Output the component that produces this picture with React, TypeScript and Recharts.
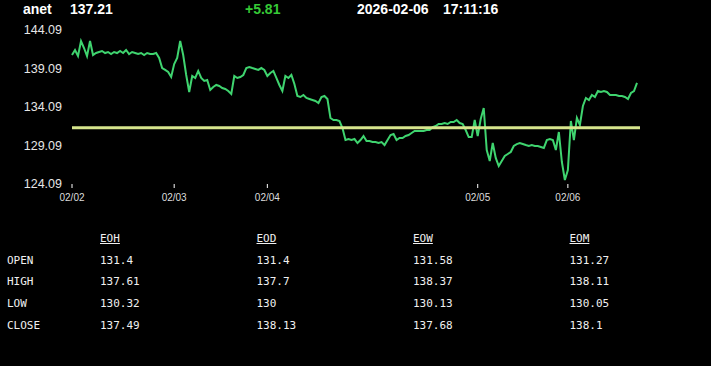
import React from 'react';
import { LineChart, Line, XAxis, YAxis, ReferenceLine } from 'recharts';

// ticker header
const symbol = 'anet';
const lastPrice = '137.21';
const change = '+5.81';
const quoteDate = '2026-02-06';
const quoteTime = '17:11:16';

// intraday closes, one point per sample (5 trading days)
const prices = [
  140.84, 141.49, 140.71, 142.66, 141.75, 140.71, 142.66, 140.84, 141.1, 141.23,
  141.36, 141.1, 141.23, 140.97, 141.23, 141.1, 141.36, 141.1, 141.49, 140.97,
  141.23, 141.1, 140.97, 141.1, 140.84, 141.1, 140.97, 140.97, 141.1, 140.45,
  139.15, 138.9, 138.64, 137.99, 139.67, 140.45, 142.66, 140.84, 138.25, 136.04,
  138.12, 137.86, 138.77, 137.86, 137.47, 137.6, 136.3, 136.69, 136.95, 136.82,
  136.56, 136.43, 136.17, 135.78, 138.12, 137.86, 137.99, 138.25, 139.15, 139.28,
  139.15, 139.03, 138.9, 139.15, 138.9, 138.12, 138.51, 138.77, 137.86, 136.95,
  136.17, 138.12, 137.86, 138.25, 137.08, 135.52, 135.39, 135.65, 135.26, 135.13,
  135.0, 134.87, 134.61, 135.39, 135.52, 135.13, 132.66, 132.4, 132.4, 132.27,
  131.36, 129.8, 129.93, 129.8, 129.93, 129.41, 129.8, 130.32, 129.67, 129.67,
  129.54, 129.54, 129.41, 129.54, 129.15, 129.8, 130.45, 130.58, 129.8, 130.06,
  130.06, 130.32, 130.45, 130.71, 130.97, 130.97, 130.97, 130.97, 131.1, 131.1,
  131.49, 131.62, 131.88, 131.88, 132.01, 131.88, 132.14, 132.14, 132.4, 132.01,
  131.88, 131.1, 130.19, 130.19, 132.4, 130.32, 132.53, 133.96, 128.51, 127.08,
  129.41, 127.47, 126.43, 127.08, 127.73, 127.99, 128.25, 129.03, 129.28, 129.41,
  129.28, 129.15, 129.03, 129.15, 129.03, 129.03, 128.9, 128.77, 129.8, 129.93,
  129.8, 128.51, 130.84, 126.95, 124.61, 125.91, 132.27, 129.8, 132.66, 131.75,
  134.22, 135.26, 135.0, 135.65, 135.39, 136.17, 136.04, 136.17, 136.04, 135.65,
  135.65, 135.65, 135.52, 135.52, 135.39, 135.13, 135.91, 136.17, 137.21,
];

// index where each day starts
const dayStarts = [0, 34, 65, 135, 165];
const dayLabels = ['02/02', '02/03', '02/04', '02/05', '02/06'];

const priceTicks = [124.09, 129.09, 134.09, 139.09, 144.09];
const prevClose = 131.4;

// OHLC summary table
const periods = ['EOH', 'EOD', 'EOW', 'EOM'];
const rowNames = ['OPEN', 'HIGH', 'LOW', 'CLOSE'];
const opens = ['131.4', '131.4', '131.58', '131.27'];
const highs = ['137.61', '137.7', '138.37', '138.11'];
const lows = ['130.32', '130', '130.13', '130.05'];
const closes = ['137.49', '138.13', '137.68', '138.1'];

const chartData = prices.map((p, i) => ({ i, price: p }));

const headStyle: React.CSSProperties = {
  position: 'absolute',
  top: 2,
  fontFamily: '"Liberation Sans", Arial, sans-serif',
  fontWeight: 'bold',
  fontSize: 14,
  lineHeight: '14px',
  color: '#ffffff',
  whiteSpace: 'nowrap',
};

const cellStyle: React.CSSProperties = {
  position: 'absolute',
  fontFamily: '"DejaVu Sans Mono", monospace',
  fontSize: 11,
  lineHeight: '11px',
  color: '#f0f0f0',
  whiteSpace: 'nowrap',
};

const colX = (c: number) => 100 + c * 156.5;
const rowTop = [233, 254.5, 276, 297.5, 319.5];

export default function App() {
  const tableRows = [opens, highs, lows, closes];
  return (
    <div
      style={{
        position: 'absolute',
        left: 0,
        top: 0,
        width: 711,
        height: 366,
        background: '#000',
        overflow: 'hidden',
      }}
    >
      <div style={{ ...headStyle, left: 23 }}>{symbol}</div>
      <div style={{ ...headStyle, left: 70 }}>{lastPrice}</div>
      <div style={{ ...headStyle, left: 245, color: '#36c936' }}>{change}</div>
      <div style={{ ...headStyle, left: 357 }}>{quoteDate}</div>
      <div style={{ ...headStyle, left: 443 }}>{quoteTime}</div>

      <div style={{ position: 'absolute', left: 0, top: 0 }}>
        <LineChart
          width={711}
          height={210}
          data={chartData}
          margin={{ top: 30, right: 71, left: 0, bottom: 6 }}
        >
          <XAxis
            dataKey="i"
            type="number"
            domain={[0, 189]}
            ticks={dayStarts}
            tickFormatter={(v: number) => dayLabels[dayStarts.indexOf(v)] ?? ''}
            axisLine={false}
            tickLine={{ stroke: '#ffffff' }}
            tickSize={4}
            tickMargin={6}
            height={20}
            interval={0}
            tick={{ fill: '#dddddd', fontSize: 10, fontFamily: '"Liberation Sans", Arial, sans-serif' }}
          />
          <YAxis
            type="number"
            domain={[124.09, 144.09]}
            ticks={priceTicks}
            tickFormatter={(v: number) => v.toFixed(2)}
            axisLine={false}
            tickLine={false}
            tickMargin={4}
            width={72}
            interval={0}
            tick={{ fill: '#e6e6e6', fontSize: 12.5, fontFamily: '"Liberation Sans", Arial, sans-serif' }}
          />
          <Line
            type="linear"
            dataKey="price"
            stroke="#3fd46f"
            strokeWidth={2}
            dot={false}
            isAnimationActive={false}
          />
          <ReferenceLine y={prevClose} stroke="#d6e58c" strokeWidth={3} />
        </LineChart>
      </div>

      {periods.map((p, c) => (
        <div key={p} style={{ ...cellStyle, left: colX(c), top: rowTop[0], textDecoration: 'underline' }}>
          {p}
        </div>
      ))}
      {rowNames.map((name, r) => (
        <React.Fragment key={name}>
          <div style={{ ...cellStyle, left: 7, top: rowTop[r + 1] }}>{name}</div>
          {tableRows[r].map((v, c) => (
            <div key={c} style={{ ...cellStyle, left: colX(c), top: rowTop[r + 1] }}>
              {v}
            </div>
          ))}
        </React.Fragment>
      ))}
    </div>
  );
}
